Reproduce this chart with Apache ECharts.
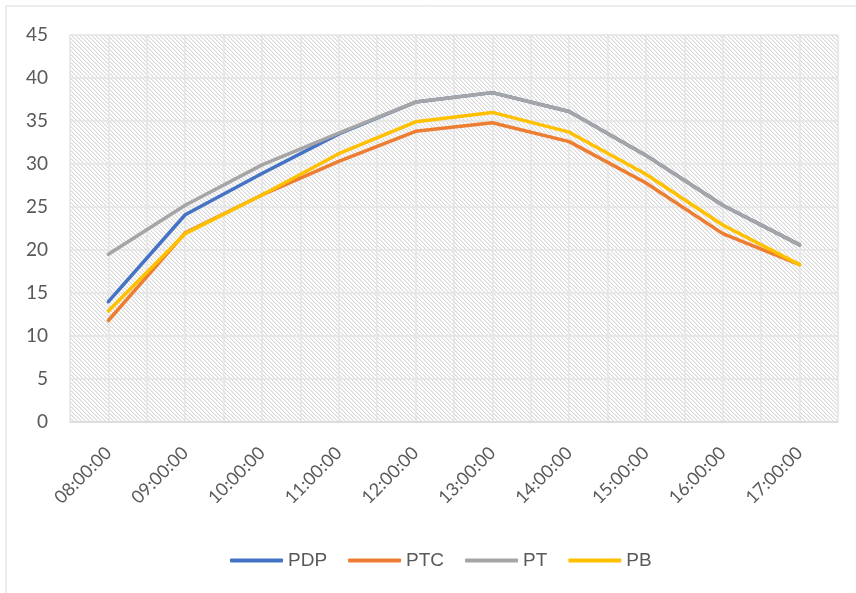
<!DOCTYPE html>
<html>
<head>
<meta charset="utf-8">
<script src="https://cdn.jsdelivr.net/npm/echarts@6/dist/echarts.min.js"></script>
<style>
html,body{margin:0;padding:0;background:#fff;}
#chart{width:856px;height:593px;}
</style>
</head>
<body>
<div id="chart"></div>
<script>
var categories = ['08:00:00','09:00:00','10:00:00','11:00:00','12:00:00','13:00:00','14:00:00','15:00:00','16:00:00','17:00:00'];
var PDP = [14.0, 24.1, 28.9, 33.5, 37.2, 38.3, 36.1, 31.0, 25.2, 20.6];
var PTC = [11.8, 22.0, 26.4, 30.3, 33.8, 34.8, 32.6, 27.8, 21.9, 18.3];
var PT  = [19.5, 25.2, 29.9, 33.6, 37.2, 38.3, 36.1, 31.0, 25.2, 20.6];
var PB  = [12.9, 21.9, 26.4, 31.2, 34.9, 36.0, 33.7, 28.8, 22.9, 18.3];
var halfSlots = ['a','b','c','d','e','f','g','h','i','j','k','l','m','n','o','p','q','r','s','t'];

// diagonal hatch tile
var tile = document.createElement('canvas');
tile.width = 4; tile.height = 4;
var tc = tile.getContext('2d');
tc.fillStyle = '#ffffff';
tc.fillRect(0,0,4,4);
for (var i = 0; i < 4; i++) {
  tc.fillStyle = '#d9d9d9';
  tc.fillRect(i, i, 1, 1);
  tc.fillStyle = '#eeeeee';
  tc.fillRect((i+1)%4, i, 1, 1);
}

var chart = echarts.init(document.getElementById('chart'), null, {renderer:'canvas'});
var font = 'Lato, "Open Sans", sans-serif';
var lfont = '"Liberation Sans", Arial, sans-serif';
var mk = function(name, data, color){
  return {name:name, type:'line', data:data, symbol:'none', smooth:false,
    lineStyle:{color:color, width:3.5, cap:'round', join:'round'}, itemStyle:{color:color}};
};
chart.setOption({
  animation:false,
  backgroundColor:'#ffffff',
  graphic:[{type:'rect', shape:{x:6, y:6, width:900, height:700}, style:{fill:'none', stroke:'#d9d9d9', lineWidth:1}, silent:true, z:-10}],
  grid:{left:70, right:18, top:35, bottom:171, show:true, backgroundColor:{image:tile, repeat:'repeat'}, borderWidth:0},
  xAxis:[{
    type:'category', data:categories, boundaryGap:true,
    axisLine:{show:true, lineStyle:{color:'#d9d9d9', width:1.5}},
    axisTick:{show:false},
    splitLine:{show:false},
    axisLabel:{rotate:45, interval:0, margin:28, color:'#595959', fontSize:18, fontFamily:font}
  },{
    type:'category', data:halfSlots, boundaryGap:true, position:'bottom',
    axisLine:{show:false}, axisTick:{show:false}, axisLabel:{show:false},
    splitLine:{show:true, interval:0, lineStyle:{color:'#e3e3e3', width:1.5}}
  }],
  yAxis:{
    type:'value', min:0, max:45, interval:5,
    axisLine:{show:false}, axisTick:{show:false},
    axisLabel:{color:'#595959', fontSize:19, fontFamily:font, margin:22},
    splitLine:{show:true, lineStyle:{color:'#e3e3e3', width:1.5}}
  },
  legend:{
    bottom:18, left:225,
    data:['PDP','PTC','PT','PB'],
    icon:'roundRect', itemWidth:53, itemHeight:4, itemGap:21,
    textStyle:{color:'#595959', fontSize:19, fontFamily:lfont}
  },
  series:[mk('PDP',PDP,'#4472C4'), mk('PTC',PTC,'#ED7D31'), mk('PT',PT,'#A5A5A5'), mk('PB',PB,'#FFC000')]
});
</script>
</body>
</html>
